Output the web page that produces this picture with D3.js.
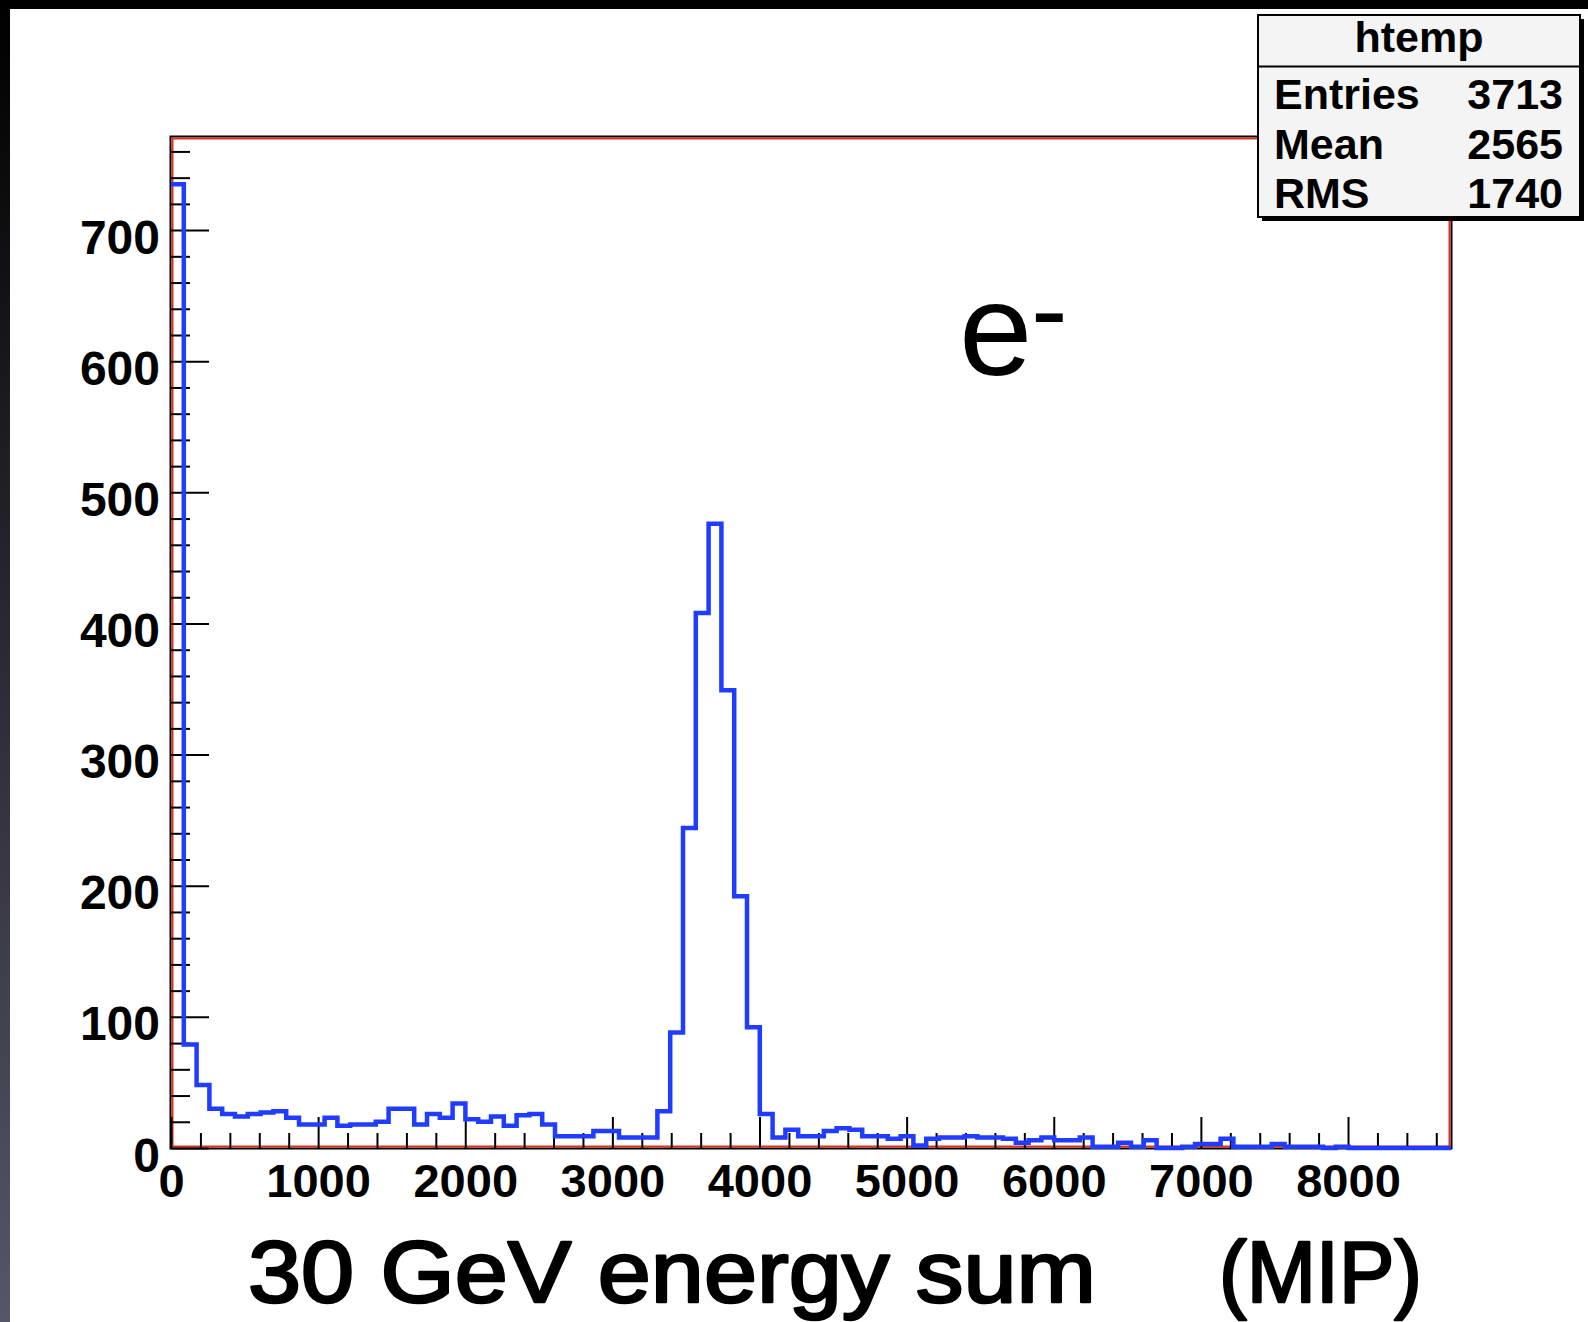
<!DOCTYPE html>
<html>
<head>
<meta charset="utf-8">
<script src="https://cdn.jsdelivr.net/npm/d3@7"></script>
<style>
  html, body { margin: 0; padding: 0; background: #fff; }
  svg { display: block; }
</style>
</head>
<body>
<svg id="chart" width="1588" height="1322"></svg>
<script>
// bin contents (100 bins of 87 MIP, starting at 0)
const binContents = [
  735, 79, 48, 30, 26, 24, 26, 27, 28, 23,
  18, 18, 23, 17, 18, 18, 20, 30, 30, 18,
  26, 23, 34, 22, 20, 24, 17, 25, 26, 18,
  9, 9, 9, 13, 13, 8, 8, 8, 28, 88,
  244, 408, 476, 349, 192, 92, 26, 8, 14, 9,
  9, 13, 15, 14, 9, 9, 7, 9, 2, 7,
  8, 8, 9, 8, 8, 7, 4, 6, 8, 6,
  6, 8, 1, 1, 4, 1, 6, 0, 0, 1,
  3, 3, 7, 1, 1, 1, 3, 1, 1, 1,
  0, 1, 0, 0, 0, 0, 0, 0, 0, 0
];
const binWidth = 87;
const xDomain = [0, 8700];
const yDomain = [0, 771];
const xMajorTicks = [0, 1000, 2000, 3000, 4000, 5000, 6000, 7000, 8000];
const yMajorTicks = [0, 100, 200, 300, 400, 500, 600, 700];
const statsTitle = "htemp";
const statsLabels = ["Entries", "Mean", "RMS"];
const statsValues = ["3713", "2565", "1740"];
const xTitle = "30 GeV energy sum";
const xUnit = "(MIP)";

const svg = d3.select("#chart");
const font = "'Liberation Sans', Arial, Helvetica, sans-serif";

// slide edges: dark band on top, gradient strip at the left
const defs = svg.append("defs");
const grad = defs.append("linearGradient").attr("id", "edge").attr("x1", 0).attr("y1", 0).attr("x2", 0).attr("y2", 1);
grad.append("stop").attr("offset", "0%").attr("stop-color", "#000");
grad.append("stop").attr("offset", "100%").attr("stop-color", "#555668");
svg.append("rect").attr("x", 0).attr("y", 0).attr("width", 10).attr("height", 1322).attr("fill", "url(#edge)");
svg.append("rect").attr("x", 0).attr("y", 0).attr("width", 1588).attr("height", 9).attr("fill", "#000");

const x = d3.scaleLinear().domain(xDomain).range([171, 1451]);
const y = d3.scaleLinear().domain(yDomain).range([1148, 137]);

// frame: black outline with red inner line
svg.append("rect")
  .attr("x", x(xDomain[0]) - 0.5).attr("y", y(yDomain[1]) - 0.5)
  .attr("width", x(xDomain[1]) - x(xDomain[0]) + 1).attr("height", y(0) - y(yDomain[1]) + 1)
  .attr("fill", "none").attr("stroke", "#000").attr("stroke-width", 2);
svg.append("rect")
  .attr("x", x(xDomain[0]) + 1.5).attr("y", y(yDomain[1]) + 1.5)
  .attr("width", x(xDomain[1]) - x(xDomain[0]) - 3).attr("height", y(0) - y(yDomain[1]) - 3)
  .attr("fill", "none").attr("stroke", "#e0301e").attr("stroke-width", 2);

// axes, ticks inward
const xMinor = d3.range(0, xDomain[1], 200).filter(v => v % 1000 !== 0);
const yMinor = d3.range(0, yDomain[1], 20).filter(v => v % 100 !== 0);

const xAxisG = svg.append("g").attr("transform", `translate(0,${y(0)})`)
  .call(d3.axisBottom(x).tickValues(xMajorTicks).tickSize(-31).tickPadding(16).tickFormat(d3.format("d")));
svg.append("g").attr("transform", `translate(0,${y(0)})`)
  .call(d3.axisBottom(x).tickValues(xMinor).tickSize(-15).tickFormat(""));
const yAxisG = svg.append("g").attr("transform", `translate(${x(0)},0)`)
  .call(d3.axisLeft(y).tickValues(yMajorTicks).tickSize(-38).tickPadding(11).tickFormat(d3.format("d")));
svg.append("g").attr("transform", `translate(${x(0)},0)`)
  .call(d3.axisLeft(y).tickValues(yMinor).tickSize(-19).tickFormat(""));

svg.selectAll(".domain").remove();
svg.selectAll(".tick line").attr("stroke", "#000").attr("stroke-width", 2);
xAxisG.selectAll("text").attr("font-family", font).attr("font-weight", "bold").attr("font-size", 47).attr("fill", "#000");
yAxisG.selectAll("text").attr("font-family", font).attr("font-weight", "bold").attr("font-size", 48).attr("fill", "#000").attr("dy", "0.48em");

// histogram outline
const steps = [];
binContents.forEach((v, i) => {
  steps.push([i * binWidth, v]);
  steps.push([Math.min((i + 1) * binWidth, xDomain[1]), v]);
});
const line = d3.line().x(d => x(d[0])).y(d => y(d[1]));
svg.append("path").attr("d", line(steps))
  .attr("fill", "none").attr("stroke", "#1f3cff").attr("stroke-width", 4.5)
  .attr("stroke-linejoin", "miter");

// particle label
const lbl = svg.append("text").attr("font-family", font).attr("fill", "#000");
lbl.append("tspan").attr("x", 959).attr("y", 375).attr("font-size", 132).text("e");
lbl.append("tspan").attr("x", 1031).attr("y", 347).attr("font-size", 110).text("-");

// stats box
const bx = 1258, by = 15, bw = 322, bh = 202;
svg.append("rect").attr("x", bx + 4).attr("y", by + 4).attr("width", bw).attr("height", bh).attr("fill", "#000");
svg.append("rect").attr("x", bx).attr("y", by).attr("width", bw).attr("height", bh)
  .attr("fill", "#f4f4f4").attr("stroke", "#000").attr("stroke-width", 2);
svg.append("line").attr("x1", bx).attr("x2", bx + bw).attr("y1", 66.5).attr("y2", 66.5)
  .attr("stroke", "#000").attr("stroke-width", 2);
svg.append("text").attr("x", bx + bw / 2).attr("y", 52).attr("text-anchor", "middle")
  .attr("font-family", font).attr("font-weight", "bold").attr("font-size", 43).text(statsTitle);
const rowY = [109, 159, 208];
statsLabels.forEach((l, i) => {
  svg.append("text").attr("x", 1274).attr("y", rowY[i])
    .attr("font-family", font).attr("font-weight", "bold").attr("font-size", 43).text(l);
  svg.append("text").attr("x", 1563).attr("y", rowY[i]).attr("text-anchor", "end")
    .attr("font-family", font).attr("font-weight", "bold").attr("font-size", 43).text(statsValues[i]);
});

// x axis title (medium weight: regular glyphs with a thin outline)
svg.append("text").attr("x", 248).attr("y", 1302)
  .attr("font-family", font).attr("font-size", 88)
  .attr("stroke", "#000").attr("stroke-width", 2.6).attr("stroke-linejoin", "round")
  .attr("textLength", 848).attr("lengthAdjust", "spacingAndGlyphs").text(xTitle);
svg.append("text").attr("x", 1219).attr("y", 1302)
  .attr("font-family", font).attr("font-size", 88)
  .attr("stroke", "#000").attr("stroke-width", 2.6).attr("stroke-linejoin", "round")
  .attr("textLength", 203).attr("lengthAdjust", "spacingAndGlyphs").text(xUnit);
</script>
</body>
</html>
